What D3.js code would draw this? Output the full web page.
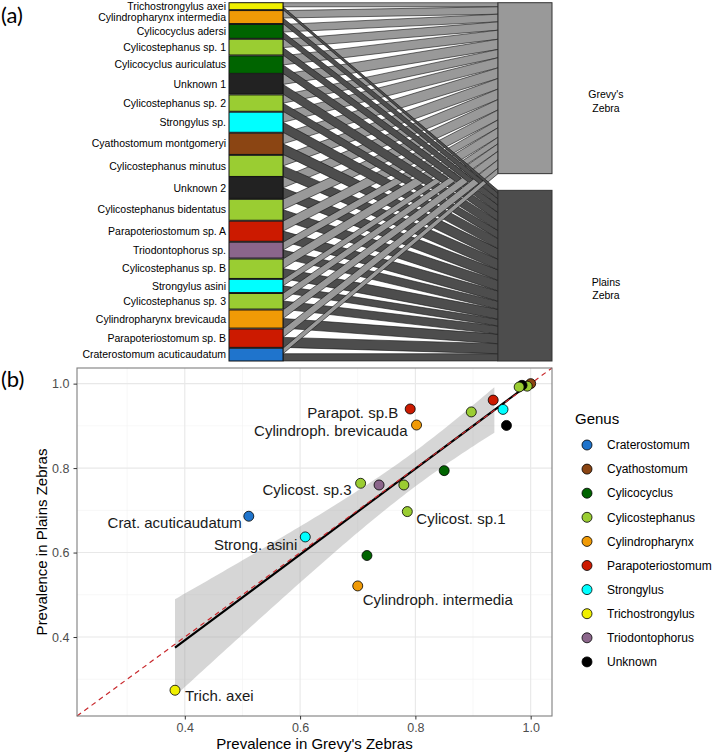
<!DOCTYPE html>
<html><head><meta charset="utf-8">
<script src="https://cdn.jsdelivr.net/npm/d3@7"></script>
<style>body{margin:0;background:#fff}svg{display:block}</style>
</head><body>
<svg id="c" width="715" height="756"></svg>
<script>
// ---------------- DATA ----------------
const species = ["Trichostrongylus axei","Cylindropharynx intermedia","Cylicocyclus adersi","Cylicostephanus sp. 1","Cylicocyclus auriculatus","Unknown 1","Cylicostephanus sp. 2","Strongylus sp.","Cyathostomum montgomeryi","Cylicostephanus minutus","Unknown 2","Cylicostephanus bidentatus","Parapoteriostomum sp. A","Triodontophorus sp.","Cylicostephanus sp. B","Strongylus asini","Cylicostephanus sp. 3","Cylindropharynx brevicauda","Parapoteriostomum sp. B","Craterostomum acuticaudatum"];
const speciesGenus = ["Trichostrongylus","Cylindropharynx","Cylicocyclus","Cylicostephanus","Cylicocyclus","Unknown","Cylicostephanus","Strongylus","Cyathostomum","Cylicostephanus","Unknown","Cylicostephanus","Parapoteriostomum","Triodontophorus","Cylicostephanus","Strongylus","Cylicostephanus","Cylindropharynx","Parapoteriostomum","Craterostomum"];
const grevyPrev  = [0.383,0.700,0.716,0.786,0.850,0.958,0.780,0.952,1.000,0.994,0.985,0.980,0.935,0.737,0.897,0.609,0.705,0.802,0.791,0.511];
const plainsPrev = [0.274,0.521,0.593,0.697,0.794,0.901,0.760,0.939,1.000,0.994,0.996,0.992,0.961,0.760,0.933,0.637,0.764,0.902,0.940,0.686];
const shortLabels = ["Trich. axei","Cylindroph. intermedia","","Cylicost. sp.1","","","","","","","","","","","","Strong. asini","Cylicost. sp.3","Cylindroph. brevicauda","Parapot. sp.B","Crat. acuticaudatum"];
const hosts = ["Grevy's Zebra","Plains Zebra"];
const genera = ["Craterostomum","Cyathostomum","Cylicocyclus","Cylicostephanus","Cylindropharynx","Parapoteriostomum","Strongylus","Trichostrongylus","Triodontophorus","Unknown"];
const genusColors = ["#1f74cc","#8b4513","#006400","#9acd32","#f09a06","#cc1a00","#00ffff","#f0f000","#8b668b","#000000"];
const axisTicks = [0.4,0.6,0.8,1.0];
const bandMaxX = 0.937;
const tCrit = 2.101; // qt(0.975, 18)

// ---------------- SETUP ----------------
const svg = d3.select("#c");
const colorOf = d3.scaleOrdinal().domain(genera).range(genusColors);
const boxColor = g => g === "Unknown" ? "#222222" : colorOf(g);
const FONT = "'Liberation Sans', Arial, sans-serif";

svg.append("text").attr("x",1).attr("y",23).text("(a)")
  .attr("font-family","Lato, 'Open Sans', sans-serif").attr("font-size",22).attr("fill","#000");
svg.append("text").attr("x",1).attr("y",387).text("(b)")
  .attr("font-family","Lato, 'Open Sans', sans-serif").attr("font-size",22).attr("fill","#000");

// ---------------- PANEL (a) : bipartite web ----------------
(function(){
  const top = 2.7, bottom = 361, H = bottom - top;
  const gapR = 16.7;
  const n = species.length;
  const totG = d3.sum(grevyPrev), totP = d3.sum(plainsPrev);
  const v = d3.scaleLinear().domain([0, totG + totP]).range([0, H - gapR]);
  const gapL = (H - v(totG + totP)) / (n - 1);
  const xBoxL0 = 229, xBoxL1 = 283, xLinkR = 498, xBoxR1 = 552;

  // left boxes
  let y = top;
  const left = species.map((s,i) => {
    const h = v(grevyPrev[i] + plainsPrev[i]);
    const o = {i, y0:y, y1:y+h, gEnd:y+v(grevyPrev[i])};
    y += h + gapL; return o;
  });
  // right boxes
  const rG0 = top, rG1 = top + v(totG), rP0 = rG1 + gapR, rP1 = rP0 + v(totP);
  let cg = rG0, cp = rP0;
  const links = [];
  left.forEach(o => {
    const hg = v(grevyPrev[o.i]), hp = v(plainsPrev[o.i]);
    links.push({type:"g", l0:o.y0, l1:o.gEnd, r0:cg, r1:cg+hg}); cg += hg;
    links.push({type:"p", l0:o.gEnd, l1:o.y1, r0:cp, r1:cp+hp}); cp += hp;
  });
  links.sort((a,b) => Math.abs(a.r0-a.l0) - Math.abs(b.r0-b.l0));
  const gL = svg.append("g");
  gL.selectAll("path.link").data(links).join("path")
    .attr("d", d => `M${xBoxL1},${d.l0}L${xLinkR},${d.r0}L${xLinkR},${d.r1}L${xBoxL1},${d.l1}Z`)
    .attr("fill", d => d.type==="g" ? "#999999" : "#4d4d4d")
    .attr("stroke","#111").attr("stroke-width",0.6);

  gL.selectAll("rect.lb").data(left).join("rect")
    .attr("x",xBoxL0).attr("y",d=>d.y0).attr("width",xBoxL1-xBoxL0).attr("height",d=>d.y1-d.y0)
    .attr("fill",d=>boxColor(speciesGenus[d.i])).attr("stroke","#111").attr("stroke-width",1);
  gL.selectAll("text.lb").data(left).join("text")
    .attr("x",xBoxL0-3).attr("y",d=>(d.y0+d.y1)/2).attr("dy","0.35em")
    .attr("text-anchor","end").attr("font-family",FONT).attr("font-size",10.5).attr("fill","#000")
    .text(d=>species[d.i]);

  const right = [{y0:rG0,y1:rG1,fill:"#999999",name:hosts[0]},{y0:rP0,y1:rP1,fill:"#4d4d4d",name:hosts[1]}];
  gL.selectAll("rect.rb").data(right).join("rect")
    .attr("x",xLinkR).attr("y",d=>d.y0).attr("width",xBoxR1-xLinkR).attr("height",d=>d.y1-d.y0)
    .attr("fill",d=>d.fill).attr("stroke","#333").attr("stroke-width",1);
  right.forEach(d => {
    const words = d.name.split(" ");
    const cy = (d.y0+d.y1)/2 + 13;
    const t = gL.append("text").attr("text-anchor","middle").attr("font-family",FONT)
      .attr("font-size",10.5).attr("fill","#000");
    words.forEach((w,k)=> t.append("tspan").attr("x",606).attr("y",cy + (k-0.5)*13.5).attr("dy","0.35em").text(w));
  });
})();

// ---------------- PANEL (b) : scatter ----------------
(function(){
  const m = {l:77, r:552, t:368, b:716};
  const dom = [0.213, 1.037];
  const x = d3.scaleLinear().domain(dom).range([m.l, m.r]);
  const y = d3.scaleLinear().domain(dom).range([m.b, m.t]);
  const g = svg.append("g");
  g.append("rect").attr("x",m.l).attr("y",m.t).attr("width",m.r-m.l).attr("height",m.b-m.t).attr("fill","#fff");
  const minor = [0.3,0.5,0.7,0.9];
  g.selectAll("line.mx").data(minor).join("line").attr("x1",d=>x(d)).attr("x2",d=>x(d)).attr("y1",m.t).attr("y2",m.b).attr("stroke","#f2f2f2").attr("stroke-width",0.6);
  g.selectAll("line.my").data(minor).join("line").attr("y1",d=>y(d)).attr("y2",d=>y(d)).attr("x1",m.l).attr("x2",m.r).attr("stroke","#f2f2f2").attr("stroke-width",0.6);
  g.selectAll("line.Mx").data(axisTicks).join("line").attr("x1",d=>x(d)).attr("x2",d=>x(d)).attr("y1",m.t).attr("y2",m.b).attr("stroke","#e8e8e8").attr("stroke-width",1.1);
  g.selectAll("line.My").data(axisTicks).join("line").attr("y1",d=>y(d)).attr("y2",d=>y(d)).attr("x1",m.l).attr("x2",m.r).attr("stroke","#e8e8e8").attr("stroke-width",1.1);

  // linear model
  const pts = grevyPrev.map((gx,i)=>({x:gx, y:plainsPrev[i], i}));
  const n = pts.length;
  const mx = d3.mean(pts,d=>d.x), my = d3.mean(pts,d=>d.y);
  const sxx = d3.sum(pts,d=>(d.x-mx)**2), sxy = d3.sum(pts,d=>(d.x-mx)*(d.y-my));
  const b = sxy/sxx, a = my - b*mx;
  const s = Math.sqrt(d3.sum(pts,d=>(d.y-(a+b*d.x))**2)/(n-2));
  const xmin = d3.min(pts,d=>d.x), xmax = d3.max(pts,d=>d.x);
  const band = d3.range(0,81).map(k => {
    const xv = xmin + (bandMaxX-xmin)*k/80;
    const se = s*Math.sqrt(1/n + (xv-mx)**2/sxx);
    const f = a + b*xv;
    return {x:xv, lo:f - tCrit*se, hi:f + tCrit*se};
  });
  g.append("path").datum(band)
    .attr("d", d3.area().x(d=>x(d.x)).y0(d=>y(d.lo)).y1(d=>y(d.hi)))
    .attr("fill","#999").attr("fill-opacity",0.4);
  g.append("line").attr("x1",x(xmin)).attr("y1",y(a+b*xmin)).attr("x2",x(xmax)).attr("y2",y(a+b*xmax))
    .attr("stroke","#000").attr("stroke-width",2.2);
  g.append("line").attr("x1",x(dom[0])).attr("y1",y(dom[0])).attr("x2",x(dom[1])).attr("y2",y(dom[1]))
    .attr("stroke","#c8282c").attr("stroke-width",1.2).attr("stroke-dasharray","5,4");

  g.selectAll("circle.pt").data(pts).join("circle")
    .attr("cx",d=>x(d.x)).attr("cy",d=>y(d.y)).attr("r",5)
    .attr("fill",d=>colorOf(speciesGenus[d.i])).attr("stroke","#000").attr("stroke-width",0.8);

  // label placement (repel-like offsets, layout only)
  const place = {
    "Trich. axei":{a:"start",dx:10,dy:6},
    "Cylindroph. intermedia":{a:"start",dx:5,dy:14},
    "Cylicost. sp.1":{a:"start",dx:9,dy:7},
    "Strong. asini":{a:"end",dx:-8,dy:8},
    "Cylicost. sp.3":{a:"end",dx:-9,dy:6},
    "Cylindroph. brevicauda":{a:"end",dx:-9,dy:6},
    "Parapot. sp.B":{a:"end",dx:-12,dy:4},
    "Crat. acuticaudatum":{a:"end",dx:-7,dy:7}
  };
  g.selectAll("text.lab").data(pts.filter(d=>shortLabels[d.i])).join("text")
    .attr("x",d=>x(d.x)+place[shortLabels[d.i]].dx)
    .attr("y",d=>y(d.y)+place[shortLabels[d.i]].dy).attr("dy","0.35em")
    .attr("text-anchor",d=>place[shortLabels[d.i]].a)
    .attr("font-family",FONT).attr("font-size",15).attr("fill","#1a1a1a")
    .text(d=>shortLabels[d.i]);

  g.append("rect").attr("x",m.l).attr("y",m.t).attr("width",m.r-m.l).attr("height",m.b-m.t)
    .attr("fill","none").attr("stroke","#7f7f7f").attr("stroke-width",1.1);

  const ax = g.append("g").attr("transform",`translate(0,${m.b})`)
    .call(d3.axisBottom(x).tickValues(axisTicks).tickFormat(d3.format(".1f")).tickSize(3.5).tickPadding(4));
  const ay = g.append("g").attr("transform",`translate(${m.l},0)`)
    .call(d3.axisLeft(y).tickValues(axisTicks).tickFormat(d3.format(".1f")).tickSize(3.5).tickPadding(4));
  [ax,ay].forEach(a=>{
    a.select(".domain").remove();
    a.selectAll(".tick line").attr("stroke","#333");
    a.selectAll(".tick text").attr("font-family",FONT).attr("font-size",12.5).attr("fill","#4d4d4d");
  });
  g.append("text").attr("x",(m.l+m.r)/2).attr("y",749).attr("text-anchor","middle")
    .attr("font-family",FONT).attr("font-size",15).attr("fill","#000").text("Prevalence in Grevy's Zebras");
  g.append("text").attr("transform",`translate(47,${(m.t+m.b)/2}) rotate(-90)`).attr("text-anchor","middle")
    .attr("font-family",FONT).attr("font-size",15).attr("fill","#000").text("Prevalence in Plains Zebras");

  // legend
  const lg = g.append("g");
  lg.append("text").attr("x",575).attr("y",419).attr("dy","0.35em").attr("font-family",FONT)
    .attr("font-size",15).attr("fill","#000").text("Genus");
  const items = lg.selectAll("g.it").data(genera).join("g")
    .attr("transform",(d,i)=>`translate(0,${445 + i*24.1})`);
  items.append("circle").attr("cx",587).attr("cy",0).attr("r",5)
    .attr("fill",d=>colorOf(d)).attr("stroke","#000").attr("stroke-width",0.8);
  items.append("text").attr("x",607).attr("y",0).attr("dy","0.35em").attr("font-family",FONT)
    .attr("font-size",12).attr("fill","#000").text(d=>d);
})();
</script>
</body></html>
